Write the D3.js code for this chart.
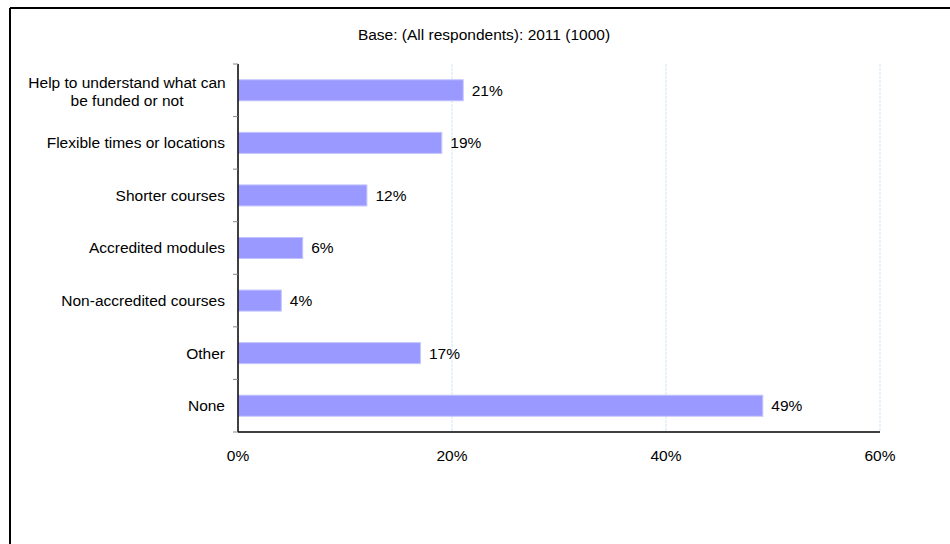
<!DOCTYPE html>
<html>
<head>
<meta charset="utf-8">
<script src="https://cdn.jsdelivr.net/npm/d3@7/dist/d3.min.js"></script>
<style>
  html, body { margin: 0; padding: 0; background: #fff; }
  svg { display: block; }
  text { font-family: "Liberation Sans", Arial, sans-serif; fill: #000; }
</style>
</head>
<body>
<svg id="chart" width="950" height="544"></svg>
<script>
// Survey responses, share of all respondents (%)
const categories = [
  "Help to understand what can|be funded or not",
  "Flexible times or locations",
  "Shorter courses",
  "Accredited modules",
  "Non-accredited courses",
  "Other",
  "None"
];
const values = [21, 19, 12, 6, 4, 17, 49];
const xTicks = [0, 20, 40, 60];
const subtitle = "Base: (All respondents): 2011 (1000)";

const fontSize = "15.5px";
const svg = d3.select("#chart");

// Outer frame (top and left edges visible)
svg.append("line").attr("x1", 10).attr("x2", 950).attr("y1", 8).attr("y2", 8)
  .attr("stroke", "#000").attr("stroke-width", 2);
svg.append("line").attr("x1", 10).attr("x2", 10).attr("y1", 8).attr("y2", 544)
  .attr("stroke", "#000").attr("stroke-width", 2);

svg.append("text")
  .attr("x", 484).attr("y", 40)
  .attr("text-anchor", "middle")
  .style("font-size", fontSize)
  .text(subtitle);

const plotLeft = 238, plotRight = 880, plotTop = 64, plotBottom = 432;

const x = d3.scaleLinear().domain([0, 60]).range([plotLeft, plotRight]);
const y = d3.scaleBand().domain(categories).range([plotTop, plotBottom]).paddingInner(0.6).paddingOuter(0.3);

// Vertical gridlines
svg.append("g").selectAll("line")
  .data(xTicks.filter(d => d > 0))
  .join("line")
  .attr("x1", d => x(d)).attr("x2", d => x(d))
  .attr("y1", plotTop).attr("y2", plotBottom)
  .attr("stroke", "#cfe6f7").attr("stroke-width", 1)
  .attr("stroke-dasharray", "3,1");

// Bars
svg.append("g").selectAll("rect")
  .data(values)
  .join("rect")
  .attr("x", x(0) + 0.5)
  .attr("y", (d, i) => y(categories[i]))
  .attr("width", d => x(d) - x(0))
  .attr("height", y.bandwidth())
  .attr("fill", "#9999ff")
  .attr("stroke", "#c4c4ff")
  .attr("stroke-width", 1);

// Value labels
svg.append("g").selectAll("text")
  .data(values)
  .join("text")
  .attr("x", d => x(d) + 9)
  .attr("y", (d, i) => y(categories[i]) + y.bandwidth() / 2)
  .attr("dy", "0.35em")
  .style("font-size", fontSize)
  .text(d => d + "%");

// Y axis with ticks at category boundaries
const step = (plotBottom - plotTop) / categories.length;
const yAxis = svg.append("g");
yAxis.append("line").attr("x1", plotLeft).attr("x2", plotLeft).attr("y1", plotTop).attr("y2", plotBottom)
  .attr("stroke", "#000").attr("stroke-width", 1.5);
yAxis.selectAll("line.tick")
  .data(d3.range(categories.length + 1))
  .join("line").attr("class", "tick")
  .attr("x1", plotLeft - 5).attr("x2", plotLeft)
  .attr("y1", i => plotTop + i * step).attr("y2", i => plotTop + i * step)
  .attr("stroke", "#888").attr("stroke-width", 1);

// Category labels (multi-line labels are centred on one another)
yAxis.selectAll("text.cat")
  .data(categories)
  .join("text").attr("class", "cat")
  .style("font-size", fontSize)
  .each(function(d) {
    const lines = d.split("|");
    const cy = y(d) + y.bandwidth() / 2;
    const t = d3.select(this);
    if (lines.length === 1) {
      t.attr("x", 225).attr("y", cy).attr("dy", "0.35em").attr("text-anchor", "end").text(d);
    } else {
      const lh = 18;
      t.attr("text-anchor", "middle");
      lines.forEach((ln, k) => {
        t.append("tspan")
          .attr("x", 127)
          .attr("y", cy + 1.5 + (k - (lines.length - 1) / 2) * lh)
          .attr("dy", "0.35em")
          .text(ln);
      });
    }
  });

// X axis
const xAxis = svg.append("g");
xAxis.append("line").attr("x1", plotLeft).attr("x2", plotRight).attr("y1", plotBottom).attr("y2", plotBottom)
  .attr("stroke", "#000").attr("stroke-width", 1.5);
xAxis.selectAll("text")
  .data(xTicks)
  .join("text")
  .attr("x", d => x(d)).attr("y", 456).attr("dy", "0.35em")
  .attr("text-anchor", "middle")
  .style("font-size", fontSize)
  .text(d => d + "%");
</script>
</body>
</html>
